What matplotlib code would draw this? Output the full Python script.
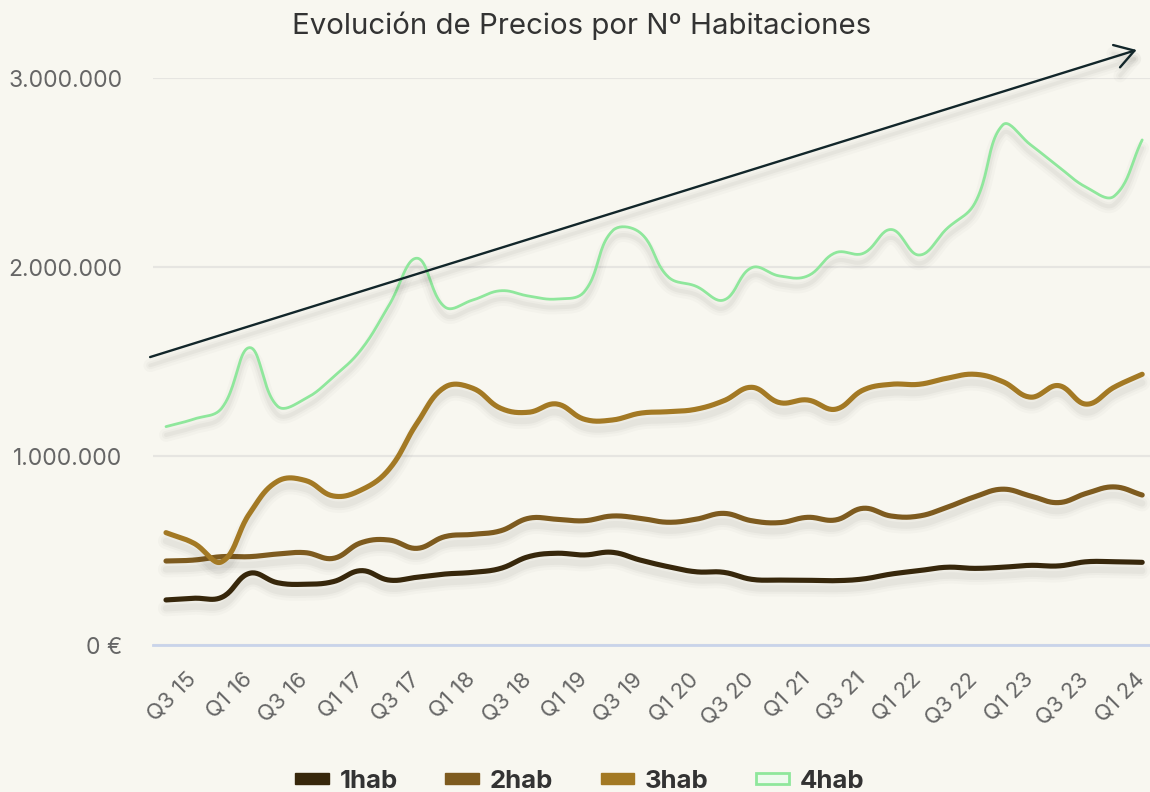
import matplotlib
matplotlib.use('Agg')
import matplotlib.pyplot as plt
import matplotlib.patheffects as pe
import matplotlib.transforms as mtransforms
from matplotlib.patches import Patch
from matplotlib.ticker import FuncFormatter
import numpy as np

plt.rcParams['font.family'] = ['Inter', 'DejaVu Sans']

# quarters (Q2 15 .. Q1 24), one point per quarter
quarters = ['Q2 15', 'Q3 15', 'Q4 15',
            'Q1 16', 'Q2 16', 'Q3 16', 'Q4 16',
            'Q1 17', 'Q2 17', 'Q3 17', 'Q4 17',
            'Q1 18', 'Q2 18', 'Q3 18', 'Q4 18',
            'Q1 19', 'Q2 19', 'Q3 19', 'Q4 19',
            'Q1 20', 'Q2 20', 'Q3 20', 'Q4 20',
            'Q1 21', 'Q2 21', 'Q3 21', 'Q4 21',
            'Q1 22', 'Q2 22', 'Q3 22', 'Q4 22',
            'Q1 23', 'Q2 23', 'Q3 23', 'Q4 23',
            'Q1 24']

# precios (miles de euros)
hab1 = [240, 249, 254, 381, 331, 323, 337, 395, 345, 360, 377, 386, 407, 469, 487, 478, 492, 451,
        416, 389, 386, 349, 345, 344, 342, 351, 377, 395, 413, 407, 413, 423, 420, 442, 442, 439]
hab2 = [446, 451, 469, 469, 483, 490, 460, 543, 557, 513, 575, 587, 606, 672, 667, 659, 684, 672,
        651, 667, 698, 659, 649, 677, 663, 725, 684, 684, 730, 786, 826, 790, 755, 804, 838, 795]
hab3 = [596, 540, 442, 698, 868, 872, 790, 822, 932, 1175, 1366, 1360, 1254, 1233, 1277, 1196, 1192, 1228,
        1236, 1249, 1294, 1365, 1284, 1298, 1249, 1351, 1381, 1381, 1413, 1434, 1395, 1313, 1374, 1276, 1366, 1434]
hab4 = [1157, 1197, 1255, 1575, 1265, 1305, 1420, 1565, 1800, 2048, 1790, 1827, 1876, 1848, 1832, 1871, 2192, 2183,
        1950, 1900, 1827, 1998, 1954, 1954, 2077, 2074, 2200, 2065, 2205, 2339, 2753, 2648, 2532, 2423, 2377, 2674]

series_names = ['1hab', '2hab', '3hab', '4hab']
colors = ['#37270b', '#7e5b1f', '#a37924', '#8fe79c']
widths = [3.7, 3.7, 3.7, 2.0]

BG = '#f8f7f0'


def chartjs_spline(ax, xs, ys, tension=0.4, n=24):
    # bezier spline like Chart.js, computed in screen space
    pts = ax.transData.transform(np.column_stack([xs, ys]))
    prev = np.vstack([pts[:1], pts[:-1]])
    nxt = np.vstack([pts[1:], pts[-1:]])
    d01 = np.hypot(*(pts - prev).T)
    d12 = np.hypot(*(nxt - pts).T)
    tot = d01 + d12
    tot[tot == 0] = 1
    fa = tension * d01 / tot
    fb = tension * d12 / tot
    cp_prev = pts - fa[:, None] * (nxt - prev)
    cp_next = pts + fb[:, None] * (nxt - prev)
    t = np.linspace(0, 1, n)[:, None]
    segs = []
    for i in range(len(pts) - 1):
        p0, c1, c2, p1 = pts[i], cp_next[i], cp_prev[i + 1], pts[i + 1]
        seg = (1 - t) ** 3 * p0 + 3 * (1 - t) ** 2 * t * c1 + 3 * (1 - t) * t ** 2 * c2 + t ** 3 * p1
        segs.append(seg if i == 0 else seg[1:])
    return ax.transData.inverted().transform(np.vstack(segs))


def shadow(lw):
    return [pe.SimpleLineShadow(offset=(0, -6), shadow_color='black', alpha=0.018, linewidth=lw + 8),
            pe.SimpleLineShadow(offset=(0, -6), shadow_color='black', alpha=0.025, linewidth=lw + 4),
            pe.SimpleLineShadow(offset=(0, -6), shadow_color='black', alpha=0.03, linewidth=lw + 1),
            pe.Normal()]


fig = plt.figure(figsize=(11.5, 7.92), dpi=100, facecolor=BG)
ax = fig.add_axes([153 / 1150, 1 - 645.3 / 792, 997 / 1150, (645.3 - 78.3) / 792])
ax.set_facecolor(BG)

x = np.arange(len(quarters))
ax.set_xlim(-0.466, 35.28)
ax.set_ylim(0, 3000000)

# grid
ax.set_yticks([0, 1000000, 2000000, 3000000])
ax.grid(axis='y', color='#e6e5e1', linewidth=1.6, zorder=0)
ax.set_axisbelow(True)
for s in ['top', 'right', 'left']:
    ax.spines[s].set_visible(False)
ax.spines['bottom'].set_color('#c9d4ea')
ax.spines['bottom'].set_linewidth(2)
ax.spines['bottom'].set_zorder(1)

ax.yaxis.set_major_formatter(FuncFormatter(
    lambda v, p: '0 €' if v == 0 else f'{int(v):,}'.replace(',', '.')))
ax.tick_params(axis='y', length=0, pad=22, labelsize=16.5, labelcolor='#666666')

ax.set_xticks(x[1::2])
ax.set_xticklabels(quarters[1::2])
ax.tick_params(axis='x', length=0, pad=17, labelsize=16, labelcolor='#666666')
shift = mtransforms.ScaledTranslation(-8 / 100, 0, fig.dpi_scale_trans)
for lab in ax.get_xticklabels():
    lab.set_rotation(45)
    lab.set_ha('right')
    lab.set_va('top')
    lab.set_rotation_mode('anchor')
    lab.set_transform(lab.get_transform() + shift)

data = [hab1, hab2, hab3, hab4]
for name, vals, c, lw, z in zip(series_names, data, colors, widths, [3, 4, 5, 6]):
    curve = chartjs_spline(ax, x, np.array(vals) * 1000)
    ax.plot(curve[:, 0], curve[:, 1], color=c, linewidth=lw, solid_capstyle='round',
            zorder=z, clip_on=False, path_effects=shadow(lw))

# tendencia
ax.annotate('', xy=(34.8, 3150000), xytext=(-0.57, 1525000),
            xycoords='data', textcoords='data', annotation_clip=False,
            arrowprops=dict(arrowstyle='->,head_length=0.45,head_width=0.28', color='#12262a', lw=1.7,
                            shrinkA=0, shrinkB=0, mutation_scale=30, path_effects=shadow(1.7)),
            zorder=8)

fig.text(0.506, 1 - 26 / 792, 'Evolución de Precios por Nº Habitaciones', ha='center', va='center',
         fontsize=21.2, color='#333333')

handles = [Patch(facecolor=c, edgecolor=c) for c in colors[:3]]
handles.append(Patch(facecolor='#eefaee', edgecolor=colors[3], linewidth=2))
fig.legend(handles, series_names, loc='center', bbox_to_anchor=(0.5045, 1 - 781 / 792), ncol=4,
           frameon=False, prop=dict(weight='bold', size=18.5), labelcolor='#333333',
           handlelength=1.3, handleheight=0.27, handletextpad=0.42, columnspacing=1.85)

fig.savefig('out.png', dpi=100, facecolor=BG)
